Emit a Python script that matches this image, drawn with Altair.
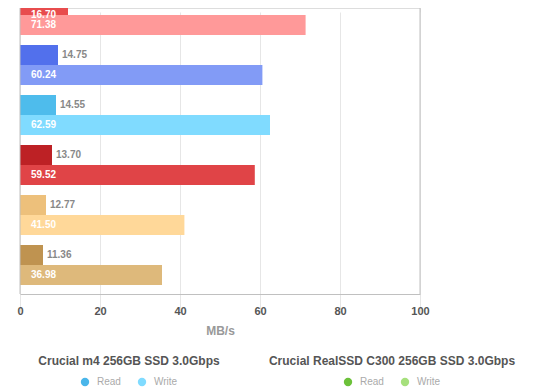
import altair as alt
import pandas as pd

# rows (drive names are not visible in the cropped picture)
drives = ["Drive 1", "Drive 2", "Drive 3", "Drive 4", "Drive 5", "Drive 6"]
series = ["Read", "Write"]
read_labels = [16.70, 14.75, 14.55, 13.70, 12.77, 11.36]
write_labels = [71.38, 60.24, 62.59, 59.52, 41.50, 36.98]
# bar lengths as drawn in the picture (read bars are caught mid-animation)
read_drawn = [12.0, 9.5, 9.0, 8.0, 6.5, 5.75]
write_drawn = [71.4, 60.6, 62.5, 58.7, 41.1, 35.5]
read_colors = ["#E84C4D", "#5270EC", "#4EBCEC", "#BD2125", "#EDC07B", "#BF9350"]
write_colors = ["#FF9999", "#829BF6", "#80DBFF", "#E04447", "#FFD899", "#DEB97B"]
legend_groups = ["Crucial m4 256GB SSD 3.0Gbps", "Crucial RealSSD C300 256GB SSD 3.0Gbps"]
legend_read = ["#4AB6EA", "#6CC13A"]
legend_write = ["#80DBFF", "#A6E07D"]
x_ticks = [0, 20, 40, 60, 80, 100]

rows = []
for i, d in enumerate(drives):
    rows.append(dict(drive=d, series="Read", value=read_drawn[i],
                     label=f"{read_labels[i]:.2f}", key=f"{d} Read"))
    rows.append(dict(drive=d, series="Write", value=write_drawn[i],
                     label=f"{write_labels[i]:.2f}", key=f"{d} Write"))
df = pd.DataFrame(rows)
keys = list(df["key"])
colors = [c for pair in zip(read_colors, write_colors) for c in pair]

FONT = "Liberation Sans"

y_enc = alt.Y("drive:N", sort=drives, axis=None,
              scale=alt.Scale(range=[-18, 282], paddingInner=0.2, paddingOuter=0.1))
yoff = alt.YOffset("series:N", sort=series,
                   scale=alt.Scale(paddingInner=0, paddingOuter=0))
x_scale = alt.Scale(domain=[0, 100], nice=False)
x_axis = alt.Axis(values=x_ticks, grid=True, gridColor="#E6E6E6", domainColor="#C0C0C0",
                  ticks=False, labelFont=FONT, labelFontSize=11, labelFontWeight="bold",
                  labelColor="#555555", labelPadding=11, labelFlush=False,
                  title="MB/s", titleFont=FONT,
                  titleFontSize=12, titleFontWeight="bold", titleColor="#999999",
                  titlePadding=9)

base = alt.Chart(df)
bars = base.mark_bar(clip=True).encode(
    x=alt.X("value:Q", scale=x_scale, axis=x_axis),
    y=y_enc, yOffset=yoff,
    color=alt.Color("key:N", scale=alt.Scale(domain=keys, range=colors), legend=None),
)
label_style = dict(align="left", baseline="middle", font=FONT, fontSize=10,
                   fontWeight="bold")
inside_write = base.transform_filter(
    "datum.value > 10 && datum.series == 'Write'").mark_text(
    clip=True, dx=11, color="white", **label_style,
).encode(x=alt.datum(0), y=y_enc, yOffset=yoff, text="label:N")
# the top read bar is cut by the picture's edge: its label is nudged into view
inside_read = base.transform_filter(
    "datum.value > 10 && datum.series == 'Read'").mark_text(
    dx=11, dy=10, color="white", **label_style,
).encode(x=alt.datum(0), y=y_enc, yOffset=yoff, text="label:N")
outside = base.transform_filter("datum.value <= 10").mark_text(
    clip=True, dx=4, color="#888888", **label_style,
).encode(x="value:Q", y=y_enc, yOffset=yoff, text="label:N")
edges = alt.Chart(pd.DataFrame({"edge": [0, 100]})).mark_rule(color="#C0C0C0").encode(
    x="edge:Q")


def legend_layer(i, lx, ly):
    ldf = pd.DataFrame({"entry": series})
    return alt.Chart(ldf).mark_circle(opacity=0).encode(
        color=alt.Color(
            "entry:N", sort=series,
            scale=alt.Scale(domain=series, range=[legend_read[i], legend_write[i]]),
            legend=alt.Legend(
                title=legend_groups[i], orient="none", legendX=lx, legendY=ly,
                direction="horizontal", titleAnchor="middle", titleLimit=600,
                symbolType="circle", symbolSize=70, symbolOpacity=1,
                symbolStrokeWidth=0, labelFont=FONT, labelFontSize=10,
                labelColor="#AAAAAA", titleFont=FONT, titleFontSize=12,
                titleFontWeight="bold", titleColor="#555555", titlePadding=9,
                columnPadding=16, labelOffset=7,
            ),
        )
    )


leg1 = legend_layer(0, 18, 348)
leg2 = legend_layer(1, 249, 348)

chart = alt.layer(bars, inside_write, inside_read, outside, edges, leg1, leg2).resolve_scale(
    color="independent"
).properties(
    width=400, height=286,
    padding={"left": 12, "top": 0, "right": 128, "bottom": 96},
    autosize=alt.AutoSizeParams(type="none"),
).configure_view(stroke=None).configure(background="white")

chart.save("out.html", embed_options={"renderer": "svg", "actions": False})
